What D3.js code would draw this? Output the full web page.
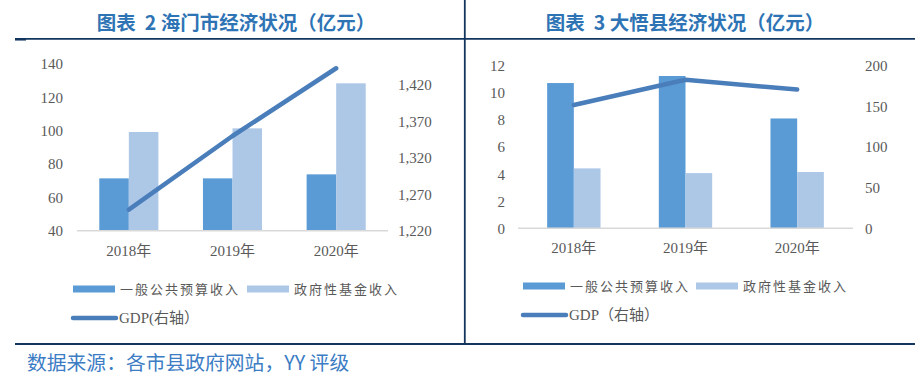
<!DOCTYPE html>
<html><head><meta charset="utf-8">
<script src="https://cdn.jsdelivr.net/npm/d3@7"></script>
<style>
html,body{margin:0;padding:0;background:#fff;}
svg{display:block;}
</style></head>
<body>
<svg id="c" width="924" height="381"></svg>
<script>
// ---- data ----
const categories = ["2018年", "2019年", "2020年"];
const seriesNames = ["一般公共预算收入", "政府性基金收入"];
const gdpLabels = ["GDP(右轴）", "GDP（右轴）"];
const titles = ["图表  2 海门市经济状况（亿元）", "图表  3 大悟县经济状况（亿元）"];
const sourceText = "数据来源：各市县政府网站，YY 评级";

// 海门市
const haimenBudget = [71.4, 71.4, 73.8];
const haimenFund = [99.2, 101.4, 128.4];
const haimenGDP = [1249, 1350, 1443];
const haimenLeftTicks = [40, 60, 80, 100, 120, 140];
const haimenRightTicks = [1220, 1270, 1320, 1370, 1420];

// 大悟县
const dawuBudget = [10.74, 11.26, 8.12];
const dawuFund = [4.43, 4.08, 4.16];
const dawuGDP = [152, 183, 171];
const dawuLeftTicks = [0, 2, 4, 6, 8, 10, 12];
const dawuRightTicks = [0, 50, 100, 150, 200];

const C_DARK = "#5b9bd5", C_LIGHT = "#adc7e7", C_LINE = "#4a7ebb";
const C_FRAME = "#12365e", C_TEXT = "#595959", C_TITLE = "#2e74b5";
const serif = "'Liberation Serif','Times New Roman','Noto Sans CJK SC',serif";
const cjk = "'Noto Sans CJK SC','Noto Sans',sans-serif";

const svg = d3.select("#c");

// frame
svg.append("line").attr("x1",15).attr("x2",915).attr("y1",38.8).attr("y2",38.8).attr("stroke",C_FRAME).attr("stroke-width",1.8);
svg.append("line").attr("x1",15).attr("x2",26).attr("y1",39.3).attr("y2",39.3).attr("stroke",C_FRAME).attr("stroke-width",2.5);
svg.append("line").attr("x1",15).attr("x2",915).attr("y1",344).attr("y2",344).attr("stroke",C_FRAME).attr("stroke-width",1.8);
svg.append("line").attr("x1",464.8).attr("x2",464.8).attr("y1",0).attr("y2",344).attr("stroke",C_FRAME).attr("stroke-width",1.8);

function chart(o){
  const g = svg.append("g");
  g.append("text").attr("x",o.titleX).attr("y",29.5).attr("text-anchor","middle")
    .attr("font-family",cjk).attr("font-weight","bold").attr("font-size",19.5).attr("fill",C_TITLE)
    .style("white-space","pre").text(o.title);

  const x = d3.scaleBand().domain(categories).range([o.x0,o.x1]);
  const yL = d3.scaleLinear().domain(o.lDom).range(o.lRange);
  const yR = d3.scaleLinear().domain(o.rDom).range(o.rRange);
  const bw = x.bandwidth();
  const gw = bw*o.groupFrac;
  const xs = d3.scaleBand().domain(seriesNames).range([0,gw]);

  const base = yL(o.lDom[0]);
  const rows = categories.map((c,i)=>({c, v:[o.budget[i], o.fund[i]]}));
  const cols = [C_DARK, C_LIGHT];
  rows.forEach(r=>{
    const gx = x(r.c) + (bw-gw)/2;
    seriesNames.forEach((s,k)=>{
      g.append("rect").attr("x",gx+xs(s)).attr("width",xs.bandwidth())
        .attr("y",yL(r.v[k])).attr("height",base-yL(r.v[k])).attr("fill",cols[k]);
    });
  });

  // baseline axis
  g.append("line").attr("x1",o.x0).attr("x2",o.x1).attr("y1",base).attr("y2",base)
    .attr("stroke","#d9d9d9").attr("stroke-width",1.5);

  // left ticks
  const axL = d3.axisLeft(yL).tickValues(o.lTicks).tickSize(0).tickPadding(0);
  const gL = g.append("g").attr("transform",`translate(${o.lLabelX},0)`).call(axL);
  gL.select(".domain").remove();
  gL.selectAll("text").attr("font-family",serif).attr("font-size",15).attr("fill",C_TEXT);
  const axR = d3.axisRight(yR).tickValues(o.rTicks).tickSize(0).tickPadding(0).tickFormat(d3.format(","));
  const gR = g.append("g").attr("transform",`translate(${o.rLabelX},0)`).call(axR);
  gR.select(".domain").remove();
  gR.selectAll("text").attr("font-family",serif).attr("font-size",15).attr("fill",C_TEXT);

  // x labels
  const axX = d3.axisBottom(x).tickSize(0).tickPadding(0);
  const gX = g.append("g").attr("transform",`translate(0,${o.xLabelY})`).call(axX);
  gX.select(".domain").remove();
  gX.selectAll("text").attr("font-family",serif).attr("font-size",15).attr("fill",C_TEXT).attr("dy","0.32em");

  // GDP line
  const line = d3.line().x((d,i)=>x(categories[i])+bw/2).y(d=>yR(d));
  g.append("path").datum(o.gdp).attr("d",line).attr("fill","none")
    .attr("stroke",C_LINE).attr("stroke-width",4.5).attr("stroke-linecap","round").attr("stroke-linejoin","round");

  // legend
  const lg = g.append("g");
  lg.append("rect").attr("x",o.leg[0]).attr("y",o.legY1-3.5).attr("width",42).attr("height",7).attr("fill",C_DARK);
  lg.append("text").attr("x",o.leg[0]+47).attr("y",o.legY1+5).attr("font-family",cjk).attr("font-size",13)
    .attr("letter-spacing",2).attr("fill",C_TEXT).text(seriesNames[0]);
  lg.append("rect").attr("x",o.leg[1]).attr("y",o.legY1-3.5).attr("width",42).attr("height",7).attr("fill",C_LIGHT);
  lg.append("text").attr("x",o.leg[1]+47).attr("y",o.legY1+5).attr("font-family",cjk).attr("font-size",13)
    .attr("letter-spacing",2).attr("fill",C_TEXT).text(seriesNames[1]);
  lg.append("line").attr("x1",o.leg[0]).attr("x2",o.leg[0]+43).attr("y1",o.legY2).attr("y2",o.legY2)
    .attr("stroke",C_LINE).attr("stroke-width",4.5).attr("stroke-linecap","round");
  lg.append("text").attr("x",o.leg[0]+46).attr("y",o.legY2+5).attr("font-family",serif).attr("font-size",15)
    .attr("fill",C_TEXT).text(o.gdpLabel);
}

chart({title:titles[0], titleX:236, x0:77, x1:388, groupFrac:0.57,
  lDom:[40,140], lRange:[230.7,64], rDom:[1220,1420], rRange:[230.7,85],
  lTicks:haimenLeftTicks, rTicks:haimenRightTicks, lLabelX:63, rLabelX:398, xLabelY:251,
  budget:haimenBudget, fund:haimenFund, gdp:haimenGDP,
  leg:[73,247], legY1:289, legY2:318, gdpLabel:gdpLabels[0]});

chart({title:titles[1], titleX:685, x0:518, x1:853, groupFrac:0.478,
  lDom:[0,12], lRange:[228.3,66], rDom:[0,200], rRange:[228.3,66],
  lTicks:dawuLeftTicks, rTicks:dawuRightTicks, lLabelX:505, rLabelX:865, xLabelY:248,
  budget:dawuBudget, fund:dawuFund, gdp:dawuGDP,
  leg:[523,696], legY1:286, legY2:315, gdpLabel:gdpLabels[1]});

svg.append("text").attr("x",27).attr("y",369.5).attr("font-family",cjk).attr("font-size",19.8)
  .attr("fill","#3b7cc4").text(sourceText);
</script>
</body></html>
